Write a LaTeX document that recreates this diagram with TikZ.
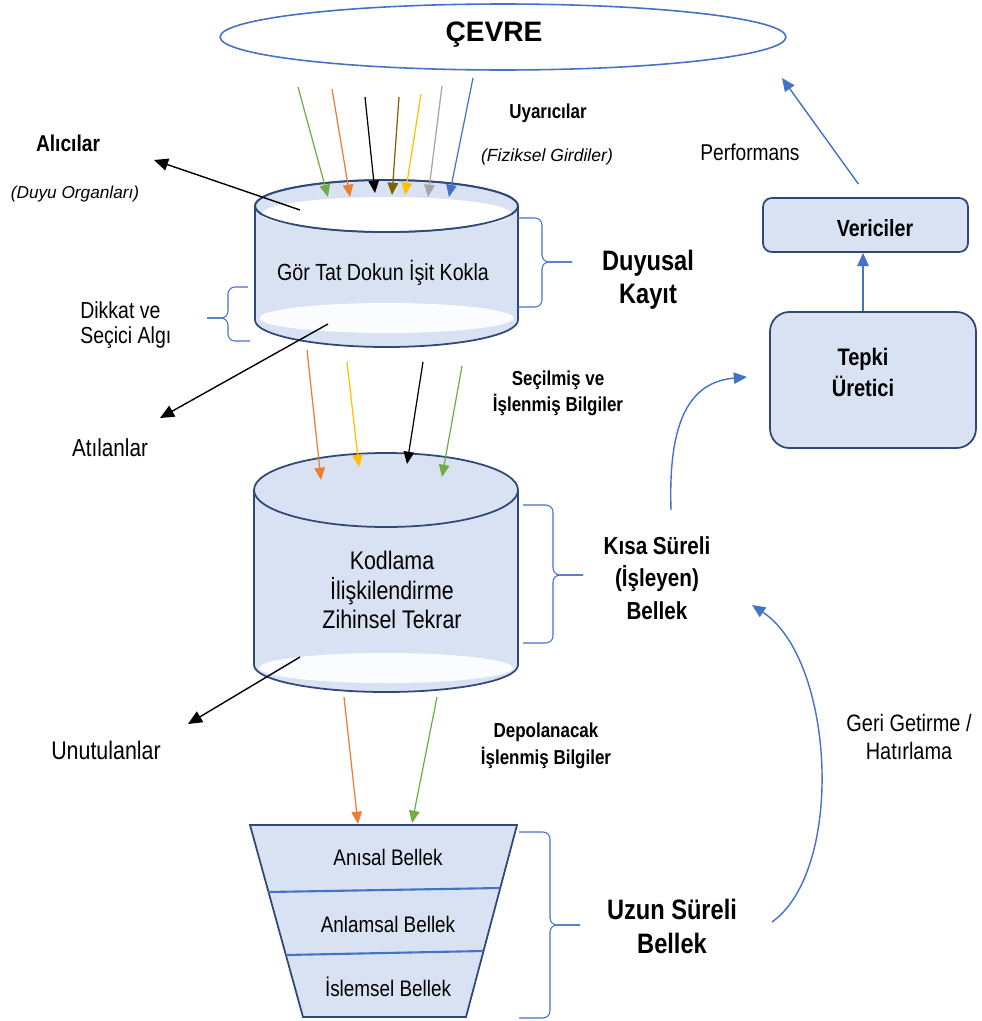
\documentclass[tikz,border=0pt]{standalone}
\usepackage{fontspec}
\setmainfont{Liberation Sans}
\newfontfamily\nar{Liberation Sans}[FakeStretch=0.84]
\usetikzlibrary{arrows.meta,shapes.geometric}
\definecolor{tankfill}{RGB}{217,226,243}
\definecolor{tankline}{RGB}{47,72,120}
\definecolor{accblue}{RGB}{68,114,196}
\definecolor{accorange}{RGB}{237,125,49}
\definecolor{accgreen}{RGB}{112,173,71}
\definecolor{accyellow}{RGB}{255,192,0}
\definecolor{accgray}{RGB}{165,165,165}
\definecolor{accbrown}{RGB}{127,96,0}
\newcommand{\fs}[2]{\fontsize{#1}{#2}\selectfont}
\tikzset{
	stim/.style = {line width=0.7pt, -{Triangle[length=7pt,width=6pt]}},
	lost/.style = {line width=0.8pt, black, -{Triangle[length=8pt,width=7pt]}},
	flow/.style = {line width=0.8pt, accblue, -{Triangle[length=7.5pt,width=6.5pt]}},
	clamp/.style = {line width=0.6pt, accblue, rounded corners=4pt},
	tankedge/.style = {line width=1pt, tankline},
	box/.style = {draw=tankline, line width=1pt, fill=tankfill, rectangle, inner sep=0pt},
	txt/.style = {align=center, inner sep=0pt, font=\nar\fs{13.3}{16}},
	hdr/.style = {align=center, inner sep=0pt, font=\nar\bfseries\fs{14}{18.4}},
	note/.style = {align=center, inner sep=0pt, font=\itshape\fs{9.8}{12}},
	tag/.style = {align=center, inner sep=0pt, font=\nar\bfseries\fs{11.5}{14.7}}
}

\begin{document}
\begin{tikzpicture}[x=0.02cm, y=0.02cm]
	\useasboundingbox (0,0) rectangle (981,-1021);

	% environment
	\node[ellipse, draw=accblue, line width=0.9pt, minimum width=11.32cm, minimum height=1.32cm, inner sep=0pt] (env) at (503,-37) {};
	\node[font=\bfseries\fs{16}{18}, inner sep=0pt] (cevre) at (494,-35) {ÇEVRE};

	% sensory register
	\fill[tankfill] (255,-206) -- (255,-320) arc[start angle=180, end angle=360, x radius=131.5, y radius=27] -- (518,-206) -- cycle;
	\fill[white, opacity=0.9] (386.5,-318) ellipse [x radius=127, y radius=15];
	\draw[tankedge] (255,-206) -- (255,-320) arc[start angle=180, end angle=360, x radius=131.5, y radius=27] -- (518,-206);
	\filldraw[tankedge, fill=tankfill] (386.5,-206) ellipse [x radius=131.5, y radius=26];
	\fill[white] (386.5,-214) ellipse [x radius=125, y radius=17];
	\draw[tankedge] (386.5,-206) ellipse [x radius=131.5, y radius=26];

	% working memory
	\fill[tankfill] (254,-490) -- (254,-665) arc[start angle=180, end angle=360, x radius=132, y radius=27] -- (518,-490) -- cycle;
	\fill[white, opacity=0.9] (386,-668) ellipse [x radius=127, y radius=15];
	\draw[tankedge] (254,-490) -- (254,-665) arc[start angle=180, end angle=360, x radius=132, y radius=27] -- (518,-490);
	\filldraw[tankedge, fill=tankfill] (386,-490) ellipse [x radius=132, y radius=37];

	% long term memory
	\filldraw[tankedge, fill=tankfill] (250,-825) -- (517,-825) -- (466,-1017) -- (303,-1017) -- cycle;
	\draw[accblue, line width=1.2pt] (268,-892) -- (500,-888);
	\draw[accblue, line width=1.2pt] (286,-955) -- (483,-951);

	% boxes
	\node[box, rounded corners=5pt, minimum width=4.1cm, minimum height=1.08cm] (veric) at (865.5,-225) {};
	\node[box, rounded corners=11pt, minimum width=4.12cm, minimum height=2.72cm] (tepki) at (873,-380) {};
	\node[hdr, font=\nar\bfseries\fs{13.3}{16}] (vertxt) at (875,-228) {Vericiler};
	\node[hdr, font=\nar\bfseries\fs{13.6}{17.6}] (teptxt) at (863,-372) {Tepki\\Üretici};

	% labels
	\node[hdr, font=\nar\bfseries\fs{13}{15}] (alici) at (68,-143) {Alıcılar};
	\node[note] (duyu) at (75,-194) {(Duyu Organları)};
	\node[tag] (uyari) at (548,-113) {Uyarıcılar};
	\node[note, font=\itshape\fs{10}{12}] (fizik) at (547,-157) {(Fiziksel Girdiler)};
	\node[txt, font=\nar\fs{13}{16}] (perf) at (750,-152) {Performans};
	\node[txt] (gor) at (383,-273) {Gör Tat Dokun İşit Kokla};
	\node[hdr, font=\nar\bfseries\fs{16}{18.7}] (duyusal) at (648,-280) {Duyusal\\Kayıt};
	\node[txt, anchor=west, align=left, font=\nar\fs{13.2}{14.2}] (dikkat) at (80,-325) {Dikkat ve\\Seçici Algı};
	\node[txt, font=\nar\fs{14}{16}] (atil) at (110,-448) {Atılanlar};
	\node[tag] (secil) at (558,-393) {Seçilmiş ve\\İşlenmiş Bilgiler};
	\node[txt, font=\nar\fs{14.5}{17}] (kod) at (392,-590) {Kodlama\\İlişkilendirme\\Zihinsel Tekrar};
	\node[hdr] (kisa) at (657,-578) {Kısa Süreli\\(İşleyen)\\Bellek};
	\node[txt, font=\nar\fs{14.5}{16}] (unut) at (106,-750) {Unutulanlar};
	\node[tag, font=\nar\bfseries\fs{11.5}{15.3}] (depo) at (546,-746) {Depolanacak\\İşlenmiş Bilgiler};
	\node[txt, font=\nar\fs{13.5}{16.4}] (geri) at (909,-737) {Geri Getirme /\\Hatırlama};
	\node[txt, font=\nar\fs{12.8}{15}] (anisal) at (388,-857) {Anısal Bellek};
	\node[txt, font=\nar\fs{12.8}{15}] (anlam) at (388,-924) {Anlamsal Bellek};
	\node[txt, font=\nar\fs{12.8}{15}] (islem) at (388,-987) {İslemsel Bellek};
	\node[hdr, font=\nar\bfseries\fs{16}{19.3}] (uzun) at (672,-926) {Uzun Süreli\\Bellek};

	% stimuli
	\coordinate (s1) at (298,-87);  \coordinate (t1) at (328,-197);
	\coordinate (s2) at (332,-89);  \coordinate (t2) at (350,-197);
	\coordinate (s3) at (365,-97);  \coordinate (t3) at (375,-193);
	\coordinate (s4) at (399,-97);  \coordinate (t4) at (392,-195);
	\coordinate (s5) at (421,-94);  \coordinate (t5) at (405,-195);
	\coordinate (s6) at (442,-86);  \coordinate (t6) at (428,-197);
	\coordinate (s7) at (473,-78);  \coordinate (t7) at (449,-197);
	\draw[stim, accgreen] (s1) -- (t1);
	\draw[stim, accorange] (s2) -- (t2);
	\draw[stim, black] (s3) -- (t3);
	\draw[stim, accbrown] (s4) -- (t4);
	\draw[stim, accyellow] (s5) -- (t5);
	\draw[stim, accgray] (s6) -- (t6);
	\draw[stim, accblue] (s7) -- (t7);

	% receivers and discarded
	\coordinate (r1) at (300,-210); \coordinate (r2) at (154,-160);
	\coordinate (d1) at (328,-324); \coordinate (d2) at (160,-418);
	\draw[lost] (r1) -- (r2);
	\draw[lost] (d1) -- (d2);

	% selected information
	\coordinate (p1) at (307,-350); \coordinate (q1) at (321,-480);
	\coordinate (p2) at (347,-362); \coordinate (q2) at (359,-467);
	\coordinate (p3) at (423,-362); \coordinate (q3) at (407,-464);
	\coordinate (p4) at (462,-366); \coordinate (q4) at (442,-477);
	\draw[stim, accorange] (p1) -- (q1);
	\draw[stim, accyellow] (p2) -- (q2);
	\draw[stim, black] (p3) -- (q3);
	\draw[stim, accgreen] (p4) -- (q4);

	% forgotten
	\coordinate (f1) at (300,-657); \coordinate (f2) at (188,-724);
	\draw[lost] (f1) -- (f2);

	% stored information
	\coordinate (m1) at (344,-697); \coordinate (n1) at (358,-824);
	\coordinate (m2) at (437,-697); \coordinate (n2) at (412,-823);
	\draw[stim, accorange] (m1) -- (n1);
	\draw[stim, accgreen] (m2) -- (n2);

	% response side
	\coordinate (top) at (782,-78);
	\draw[flow] ([xshift=-0.2cm]tepki.north) -- ([xshift=-0.2cm]tepki.north |- veric.south);
	\draw[flow] ([shift={(-7,13)}]veric.north) -- (top);
	\coordinate (k1) at (671,-510); \coordinate (k2) at (747,-377);
	\draw[flow] (k1) .. controls (668,-420) and (690,-382) .. (k2);
	\coordinate (g1) at (772,-922); \coordinate (g2) at (752,-605);
	\draw[flow] (g1) .. controls (845,-870) and (835,-660) .. (g2);

	% braces
	\draw[clamp] (518,-218) -- (542,-218) -- (542,-262) -- (572,-262);
	\draw[clamp] (518,-307) -- (542,-307) -- (542,-262) -- (572,-262);
	\draw[clamp] (248,-287) -- (228,-287) -- (228,-318) -- (207,-318);
	\draw[clamp] (250,-341) -- (228,-341) -- (228,-318) -- (207,-318);
	\draw[clamp] (523,-505) -- (553,-505) -- (553,-575) -- (583,-575);
	\draw[clamp] (523,-643) -- (553,-643) -- (553,-575) -- (583,-575);
	\draw[clamp] (519,-832) -- (550,-832) -- (550,-925) -- (580,-925);
	\draw[clamp] (519,-1018) -- (550,-1018) -- (550,-925) -- (580,-925);
\end{tikzpicture}
\end{document}
